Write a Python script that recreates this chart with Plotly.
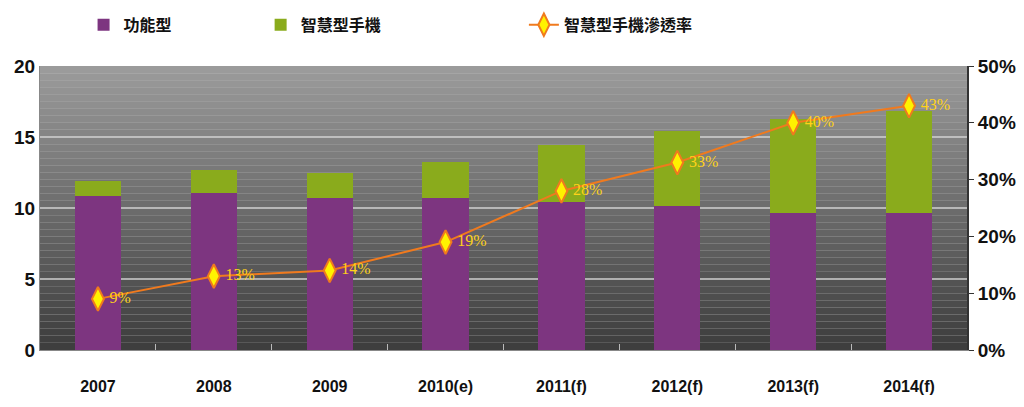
import plotly.graph_objects as go

years = ["2007", "2008", "2009", "2010(e)", "2011(f)", "2012(f)", "2013(f)", "2014(f)"]
feature_phone = [10.85, 11.05, 10.7, 10.7, 10.4, 10.15, 9.65, 9.65]
smart_phone = [1.05, 1.65, 1.75, 2.55, 4.05, 5.25, 6.65, 7.15]
penetration = [0.09, 0.13, 0.14, 0.19, 0.28, 0.33, 0.40, 0.43]
pen_labels = ["9%", "13%", "14%", "19%", "28%", "33%", "40%", "43%"]

num_font = dict(family="Liberation Sans Narrow, Arial Narrow, Liberation Sans", size=19, color="#111111", weight=700)
cjk_font = dict(family="Noto Sans CJK TC", size=16, color="#111111", weight=700)

fig = go.Figure()
fig.add_trace(go.Bar(x=years, y=feature_phone, name="功能型", width=0.4, legend="legend",
                     marker=dict(color="#7d3580", line=dict(width=0))))
fig.add_trace(go.Bar(x=years, y=smart_phone, name="智慧型手機", width=0.4, legend="legend2",
                     marker=dict(color="#8aab1c", line=dict(width=0))))
fig.add_trace(go.Scatter(x=years, y=penetration, name="智慧型手機滲透率", yaxis="y2",
                         legend="legend3",
                         mode="lines+markers+text", text=pen_labels,
                         textposition="middle right",
                         textfont=dict(family="Liberation Serif", size=16, color="#ffd21a"),
                         line=dict(color="#f07a1e", width=2),
                         marker=dict(symbol="diamond-tall", size=17, color="#fff200",
                                     line=dict(color="#f07a1e", width=2))))

# background gradient (decoration)
shapes = []
n = 40
top = (155, 155, 155)
bot = (62, 62, 62)
for i in range(n):
    t = i / (n - 1)
    c = tuple(int(top[k] + (bot[k] - top[k]) * t) for k in range(3))
    shapes.append(dict(type="rect", xref="x domain", yref="y domain",
                       x0=0, x1=1, y0=1 - (i + 1) / n, y1=1 - i / n,
                       fillcolor="rgb(%d,%d,%d)" % c, line=dict(width=0), layer="below"))

leg_common = dict(orientation="h", yanchor="middle", xanchor="left", y=1.145,
                  font=cjk_font, bgcolor="rgba(0,0,0,0)")

fig.update_layout(
    width=1024, height=407,
    margin=dict(l=32, r=65, t=58, b=65, autoexpand=False),
    paper_bgcolor="white",
    plot_bgcolor="#808080",
    barmode="stack",
    shapes=shapes,
    showlegend=True,
    legend=dict(x=0.047, **leg_common),
    legend2=dict(x=0.238, **leg_common),
    legend3=dict(x=0.522, **leg_common),
    xaxis=dict(type="category", showline=True, linecolor="#888888", linewidth=1,
               ticks="inside", tickson="boundaries", ticklen=6, tickcolor="#bbbbbb",
               tickfont=dict(family="Liberation Sans Narrow, Arial Narrow, Liberation Sans", size=16, color="#111111", weight=700),
               ticklabelstandoff=22, showgrid=False),
    yaxis=dict(range=[0, 20], dtick=5, showline=True, linecolor="#888888", linewidth=1,
               tickfont=num_font, ticks="", showgrid=True, gridcolor="rgba(215,215,215,0.7)",
               gridwidth=2, zeroline=False,
               minor=dict(dtick=0.5, showgrid=True, gridcolor="rgba(255,255,255,0.13)", gridwidth=1)),
    yaxis2=dict(range=[0, 0.5], dtick=0.1, tickformat=".0%", overlaying="y", side="right",
                showline=True, linecolor="#333333", linewidth=2, ticks="outside", ticklen=5,
                tickcolor="#333333", tickfont=num_font, showgrid=False, zeroline=False),
)

fig.write_html("out.html")
